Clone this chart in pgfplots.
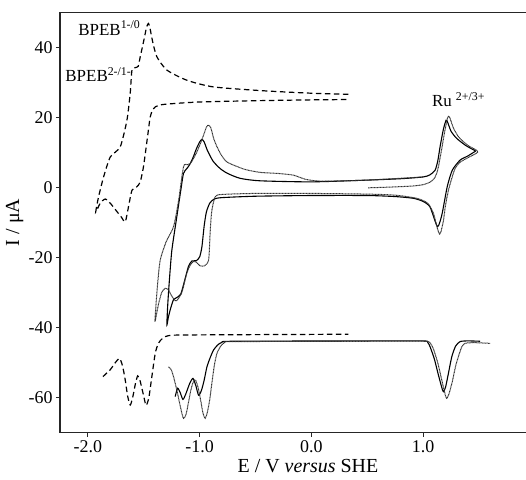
\documentclass[border=0pt]{standalone}
\usepackage{pgfplots}
\pgfplotsset{compat=1.18}
\usepackage{fontspec}
\setmainfont{Liberation Serif}
\usetikzlibrary{calc}

\begin{document}
\begin{tikzpicture}
\begin{axis}[
    name=ax,
    scale only axis,
    width=466bp, height=420.4bp,
    xmin=-2.25, xmax=1.92,
    ymin=-70, ymax=50,
    axis x line*=box, axis y line*=left,
    xtick pos=bottom, ytick pos=left,
    axis line style={line width=1.1bp, black!85},
    tick style={line width=1bp, black!85},
    tick align=outside,
    major tick length=4bp,
    xtick={-2,-1,0,1},
    ytick={-60,-40,-20,0,20,40},
    xticklabel style={/pgf/number format/.cd, fixed, fixed zerofill, precision=1},
    /pgf/number format/assume math mode=true,
    ticklabel style={font=\fontsize{18}{18}\selectfont},
    xlabel={E / V \textit{versus} SHE},
    ylabel={I / μA},
    label style={font=\fontsize{20}{20}\selectfont},
    xlabel style={at={(axis description cs:0.532,-0.079)}, anchor=center},
    ylabel style={at={(axis description cs:-0.097,0.5)}, anchor=center},
    clip=false,
]
% BPEB cyclic voltammogram (dashed)
\addplot[black, line width=1.2bp, dash pattern=on 5.5bp off 3.5bp, smooth, tension=0.4] coordinates {
    (0.33,26.6) (0.0,26.9) (-0.43,27.6) (-0.877,28.7) (-1.114,30.6) (-1.293,33.5)
    (-1.383,37.3) (-1.42,41.5) (-1.445,45.5) (-1.458,46.8) (-1.475,45.8)
    (-1.503,41.5) (-1.532,37.3) (-1.550,34.6) (-1.577,34.2) (-1.606,33.5)
    (-1.622,26.8) (-1.651,19.2) (-1.711,11.6) (-1.80,8.7) (-1.86,3.0)
    (-1.905,-2.7) (-1.93,-7.0)
    (-1.89,-4.5) (-1.845,-3.3) (-1.80,-4.5) (-1.75,-6.5) (-1.70,-8.5) (-1.666,-9.8)
    (-1.637,-5.5) (-1.606,-0.8) (-1.562,0.2) (-1.532,1.6) (-1.503,5.9)
    (-1.467,14.4) (-1.443,20.1) (-1.42,22.2) (-1.398,23.0) (-1.324,23.7)
    (-1.0,24.4) (-0.43,24.8) (0.0,25.0) (0.33,25.1)
};
% BPEB differential pulse (dashed)
\addplot[black, line width=1.2bp, dash pattern=on 5.5bp off 3.5bp, smooth, tension=0.4] coordinates {
    (-1.866,-54.0) (-1.80,-52.0) (-1.755,-50.0) (-1.717,-48.8) (-1.69,-51.0)
    (-1.666,-55.0) (-1.645,-59.5) (-1.622,-62.1) (-1.60,-60.0) (-1.575,-56.0)
    (-1.555,-53.8) (-1.535,-55.0) (-1.505,-59.0) (-1.48,-62.2) (-1.455,-60.0)
    (-1.428,-54.0) (-1.398,-47.4) (-1.37,-44.5) (-1.33,-43.0) (-1.279,-42.3)
    (-1.1,-42.1) (0.33,-41.9)
};
% complex CV, scan 1 (solid)
\addplot[black, line width=1.1bp, smooth, tension=0.4] coordinates {
    (1.47,10.4) (1.40,9.0) (1.33,7.8) (1.26,4.9) (1.215,0.2) (1.17,-7.4)
    (1.145,-10.3) (1.128,-11.2) (1.105,-9.5) (1.06,-5.5) (1.0,-4.0) (0.913,-3.1)
    (0.75,-2.6) (0.5,-2.3) (0.0,-2.3) (-0.5,-2.5) (-0.8,-2.9) (-0.87,-3.3)
    (-0.91,-4.5) (-0.94,-7.0) (-0.96,-11.0) (-0.98,-16.9) (-1.0,-19.8)
    (-1.03,-20.9) (-1.07,-21.0) (-1.10,-22.5) (-1.13,-26.0) (-1.17,-30.5)
    (-1.21,-31.5) (-1.234,-32.0) (-1.26,-34.5) (-1.28,-37.0) (-1.294,-39.3)
    (-1.285,-33.0) (-1.27,-26.0) (-1.249,-17.9) (-1.205,-8.4) (-1.17,-1.0)
    (-1.145,4.0) (-1.115,5.4) (-1.09,6.5) (-1.06,8.5) (-1.03,11.0) (-1.0,13.0)
    (-0.98,13.7) (-0.96,13.0) (-0.93,10.5) (-0.88,7.5) (-0.817,5.4) (-0.75,4.0)
    (-0.637,2.6) (-0.458,1.9) (0.0,1.6) (0.5,2.1) (0.8,2.5) (1.0,3.0) (1.06,3.6)
    (1.106,4.9) (1.13,7.5) (1.151,11.6) (1.18,16.5) (1.205,19.2) (1.22,18.5)
    (1.25,16.0) (1.30,14.0) (1.38,12.0) (1.47,10.4)
};
% complex CV, scan 2 (dotted)
\addplot[black!80, line width=1bp, dash pattern=on 1bp off 0.5bp, smooth, tension=0.4] coordinates {
    (0.507,-0.1) (0.7,0.1) (0.9,0.4) (1.0,0.8) (1.06,1.5) (1.1,2.6) (1.13,5.0)
    (1.16,10.0) (1.19,15.5) (1.215,19.5) (1.226,20.3) (1.24,19.8) (1.27,17.0)
    (1.32,14.3) (1.40,12.0) (1.49,10.2)
    (1.40,8.5) (1.33,7.2) (1.285,5.4) (1.255,2.5) (1.226,-0.8) (1.20,-5.0)
    (1.182,-9.3) (1.16,-12.5) (1.146,-13.3) (1.125,-11.5) (1.092,-7.4)
    (1.04,-4.5) (0.943,-3.1) (0.75,-2.2) (0.5,-1.9) (0.0,-1.7) (-0.5,-1.7)
    (-0.8,-2.0) (-0.86,-2.6) (-0.891,-6.5) (-0.905,-12.0) (-0.92,-20.7)
    (-0.96,-22.4) (-1.0,-22.3) (-1.03,-21.3) (-1.06,-21.2) (-1.09,-22.5)
    (-1.12,-25.0) (-1.16,-30.0) (-1.21,-32.4) (-1.25,-31.0) (-1.28,-29.2)
    (-1.31,-28.8) (-1.34,-30.0) (-1.37,-33.5) (-1.40,-38.3)
    (-1.39,-33.0) (-1.375,-27.0) (-1.353,-20.7) (-1.30,-15.5) (-1.234,-11.2)
    (-1.19,-4.0) (-1.145,5.9) (-1.11,6.5) (-1.085,6.8) (-1.06,8.0) (-1.02,10.5)
    (-0.97,14.5) (-0.94,17.2) (-0.921,17.8) (-0.90,17.0) (-0.87,13.5)
    (-0.82,10.0) (-0.757,7.3) (-0.6,5.2) (-0.458,4.3) (-0.3,4.0) (-0.16,3.5)
    (-0.05,2.3) (0.1,1.8) (0.5,2.1) (1.0,3.0)
};
% complex differential pulse, scan 1 (solid)
\addplot[black, line width=1.1bp, smooth, tension=0.4] coordinates {
    (-1.219,-59.7) (-1.198,-57.3) (-1.175,-58.5) (-1.15,-60.5) (-1.125,-59.0)
    (-1.09,-56.0) (-1.06,-54.5) (-1.035,-56.5) (-1.01,-59.3) (-0.985,-58.0)
    (-0.96,-55.0) (-0.935,-51.2) (-0.905,-48.5) (-0.876,-46.4) (-0.84,-45.0)
    (-0.80,-44.2) (-0.7,-43.9) (0.5,-43.8) (1.0,-43.8) (1.04,-44.2)
    (1.062,-45.5) (1.1,-49.0) (1.14,-54.0) (1.17,-57.5) (1.182,-58.3)
    (1.2,-57.0) (1.22,-54.0) (1.256,-48.3) (1.29,-45.3) (1.33,-44.0)
    (1.4,-43.8) (1.509,-43.9)
};
% complex differential pulse, scan 2 (dotted)
\addplot[black!80, line width=1bp, dash pattern=on 1bp off 0.5bp, smooth, tension=0.4] coordinates {
    (-1.279,-51.2) (-1.255,-52.0) (-1.234,-54.0) (-1.2,-58.5) (-1.17,-63.0)
    (-1.145,-65.9) (-1.12,-64.5) (-1.08,-58.0) (-1.055,-55.3) (-1.037,-55.0)
    (-1.015,-57.0) (-0.99,-61.0) (-0.97,-64.5) (-0.951,-65.9) (-0.93,-64.0)
    (-0.91,-60.5) (-0.891,-55.9) (-0.87,-51.0) (-0.846,-47.4) (-0.81,-45.2)
    (-0.772,-44.2) (-0.7,-44.0) (0.5,-43.9) (1.0,-43.9) (1.06,-44.3)
    (1.09,-46.0) (1.13,-50.0) (1.17,-55.5) (1.2,-59.5) (1.211,-60.2)
    (1.23,-59.0) (1.26,-55.5) (1.29,-51.0) (1.315,-48.3) (1.345,-45.5)
    (1.375,-44.5) (1.45,-44.3) (1.599,-44.5)
};
\node[anchor=base west, inner sep=0pt, font=\fontsize{17}{17}\selectfont]
    at (axis cs:-2.087,43.5) {BPEB\textsuperscript{1-/0}};
\node[anchor=base west, inner sep=0pt, font=\fontsize{17}{17}\selectfont]
    at (axis cs:-2.203,30.3) {BPEB\textsuperscript{2-/1-}};
\node[anchor=base west, inner sep=0pt, font=\fontsize{17}{17}\selectfont]
    at (axis cs:1.077,23.0) {Ru \textsuperscript{2+/3+}};
\end{axis}
\pgfresetboundingbox
\path[use as bounding box] ($(ax.south west)+(-60bp,-47.3bp)$) rectangle ($(ax.north east)+(0bp,12.3bp)$);
\end{tikzpicture}
\end{document}
